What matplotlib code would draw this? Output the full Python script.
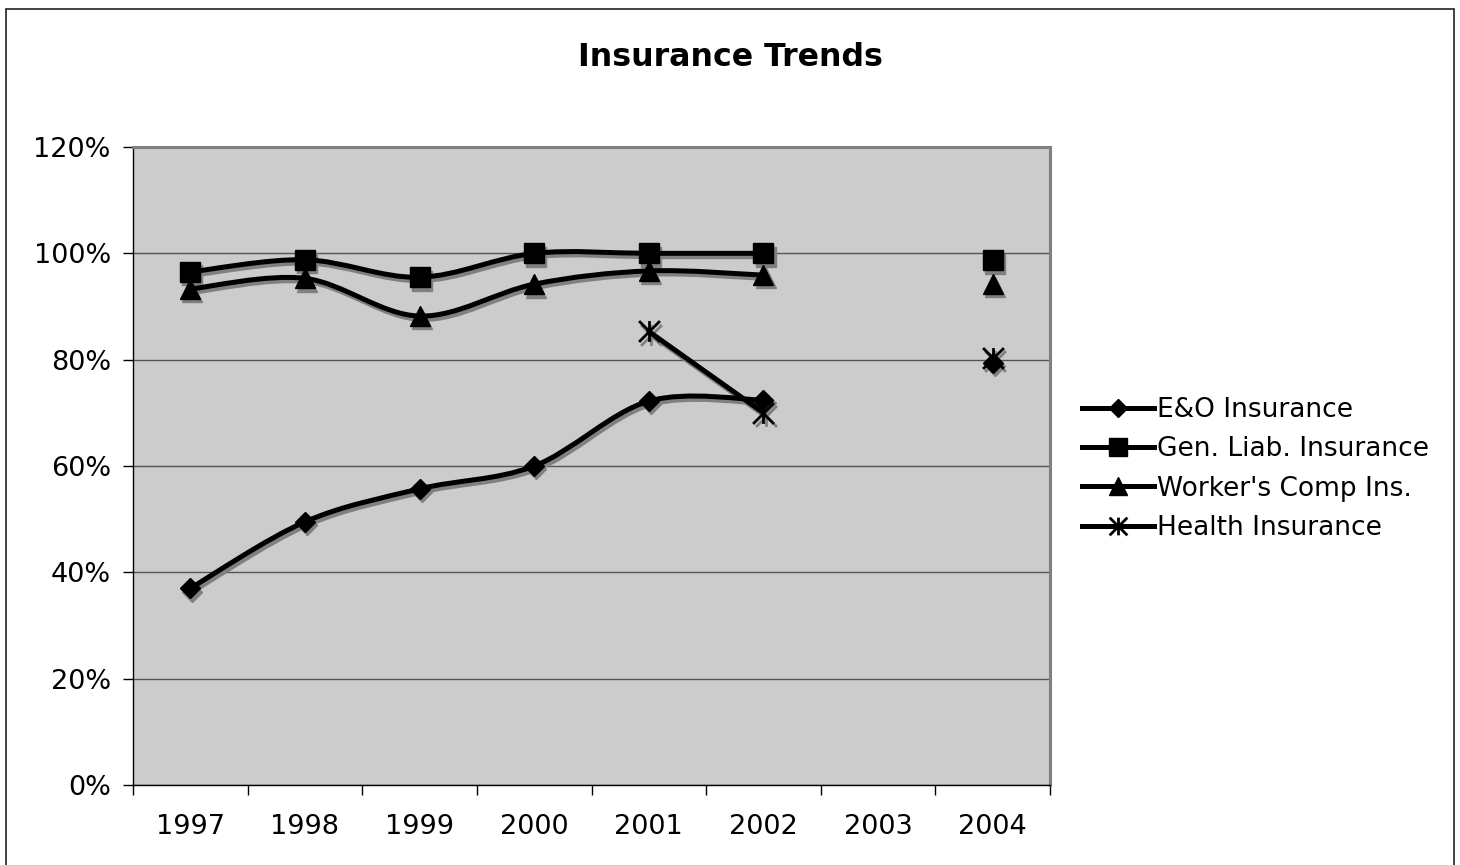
import numpy as np
import matplotlib
matplotlib.use("Agg")
import matplotlib.pyplot as plt
from matplotlib.path import Path
from matplotlib.patches import PathPatch, Rectangle
from matplotlib.lines import Line2D
from matplotlib.transforms import ScaledTranslation

years = ['1997', '1998', '1999', '2000', '2001', '2002', '2003', '2004']
eo_ins = [37.0, 49.5, 55.7, 60.0, 72.2, 72.4, np.nan, 79.4]
gen_liab = [96.5, 98.8, 95.5, 100.0, 100.0, 100.0, np.nan, 98.7]
workers_comp = [93.3, 95.3, 88.2, 94.2, 96.7, 95.9, np.nan, 94.3]
health_ins = [np.nan, np.nan, np.nan, np.nan, 85.3, 70.0, np.nan, 80.4]
labels = ['E&O Insurance', 'Gen. Liab. Insurance', "Worker's Comp Ins.", 'Health Insurance']

# asterisk marker: vertical bar plus an X
star_path = Path([(0, -1), (0, 1), (-1, -1), (1, 1), (-1, 1), (1, -1)],
                 [Path.MOVETO, Path.LINETO, Path.MOVETO, Path.LINETO, Path.MOVETO, Path.LINETO])

styles = [
    dict(marker='D', ms=10.5, mew=1),
    dict(marker='s', ms=14.5, mew=1),
    dict(marker='^', ms=15, mew=1),
    dict(marker=star_path, ms=15, mew=2.0),
]


def smooth_path(xs, ys):
    # excel-like smoothed line: catmull-rom segments as cubic beziers
    pts = np.column_stack([xs, ys])
    verts = [pts[0]]
    codes = [Path.MOVETO]
    n = len(pts)
    for i in range(n - 1):
        p0 = pts[max(i - 1, 0)]
        p1 = pts[i]
        p2 = pts[i + 1]
        p3 = pts[min(i + 2, n - 1)]
        c1 = p1 + (p2 - p0) / 6.0
        c2 = p2 - (p3 - p1) / 6.0
        verts += [c1, c2, p2]
        codes += [Path.CURVE4] * 3
    return Path(verts, codes)


fig = plt.figure(figsize=(14.6, 8.65), dpi=100)
ax = fig.add_axes([133 / 1460, 1 - 785 / 865, (1050 - 133) / 1460, (785 - 147) / 865])
ax.set_facecolor('#cccccc')

shadow = ax.transData + ScaledTranslation(1.5 / 72, -2.4 / 72, fig.dpi_scale_trans)
x = np.arange(len(years))
lw = 3.6

for vals, st in zip([eo_ins, gen_liab, workers_comp, health_ins], styles):
    vals = np.array(vals, dtype=float)
    ok = ~np.isnan(vals)
    # split into runs of consecutive values
    runs, cur = [], []
    for i in range(len(vals)):
        if ok[i]:
            cur.append(i)
        elif cur:
            runs.append(cur)
            cur = []
    if cur:
        runs.append(cur)
    for r in runs:
        if len(r) < 2:
            continue
        p = smooth_path(x[r], vals[r])
        ax.add_patch(PathPatch(p, fill=False, lw=lw, ec='#808080', transform=shadow, zorder=3,
                               capstyle='round', joinstyle='round'))
        ax.add_patch(PathPatch(p, fill=False, lw=lw, ec='black', zorder=4,
                               capstyle='round', joinstyle='round'))
    ax.plot(x[ok], vals[ok], ls='none', marker=st['marker'], ms=st['ms'], mew=st['mew'],
            color='#808080', transform=shadow, zorder=3)
    ax.plot(x[ok], vals[ok], ls='none', marker=st['marker'], ms=st['ms'], mew=st['mew'],
            color='black', zorder=5)

ax.set_xlim(-0.5, len(years) - 0.5)
ax.set_ylim(0, 120)
ax.set_yticks(np.arange(0, 121, 20))
ax.set_yticklabels([f'{v}%' for v in range(0, 121, 20)], fontsize=19.5)
ax.yaxis.grid(True, color='#555555', lw=1)
ax.set_axisbelow(True)
ax.set_xticks(np.arange(-0.5, len(years)))
ax.set_xticklabels([])
ax.set_xticks(x, minor=True)
ax.set_xticklabels(years, minor=True, fontsize=19.5)
ax.tick_params(axis='x', which='major', length=7, width=1, color='black', direction='out')
ax.tick_params(axis='x', which='minor', length=0, pad=21)
ax.tick_params(axis='y', length=7, width=1, direction='out', pad=9)

for side in ['left', 'bottom']:
    ax.spines[side].set_color('black')
    ax.spines[side].set_linewidth(1)
for side in ['top', 'right']:
    ax.spines[side].set_color('#808080')
    ax.spines[side].set_linewidth(2.2)

fig.text(0.5, 1 - 57 / 865, 'Insurance Trends', ha='center', va='center',
         fontsize=22.8, fontweight='bold')

handles = [Line2D([], [], color='black', lw=lw, marker=st['marker'], ms=st['ms'] * 0.85,
                  mew=st['mew']) for st in styles]
fig.legend(handles, labels, loc='center left', bbox_to_anchor=(1071 / 1460, 1 - 469 / 865),
           frameon=False, fontsize=19, handlelength=2.75, handletextpad=0.12,
           labelspacing=0.5, borderaxespad=0)

# outer chart border
fig.add_artist(Rectangle((6 / 1460, -0.05), (1454 - 6) / 1460, 1.05 - 9 / 865,
                         transform=fig.transFigure, fill=False, ec='#222222', lw=1.2))

fig.savefig('out.png', dpi=100)
